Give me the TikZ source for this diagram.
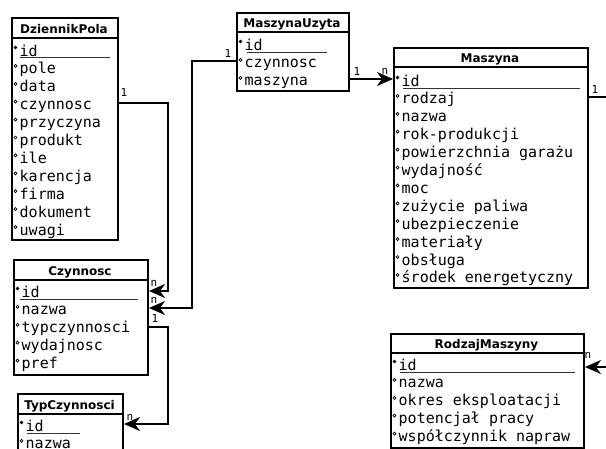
\documentclass[tikz,border=0pt]{standalone}
\usepackage{fontspec}
\newfontfamily\monof{DejaVu Sans Mono}
\newfontfamily\sansf{DejaVu Sans}
\usetikzlibrary{arrows.meta}
\tikzset{
 ebox/.style={draw, line width=2pt, inner sep=0pt, anchor=north west},
 ttl/.style={anchor=base, inner sep=0pt, font=\sansf\bfseries\fontsize{12}{14}\selectfont},
 rowtxt/.style={anchor=base west, inner sep=0pt, font=\monof\fontsize{15}{18}\selectfont},
 ulin/.style={line width=1pt, black!80},
 conn/.style={line width=2pt},
 arr/.style={conn, -{Stealth[length=16pt,width=14pt,inset=5pt]}},
 lbl/.style={inner sep=0pt, font=\monof\fontsize{11}{12}\selectfont},
}
% #1 name, #2 L, #3 R, #4 T, #5 H (title bottom), #6 B, #7 title, #8 title baseline
\newcommand\mkent[8]{%
 \node[ebox, minimum width={#3pt-#2pt}, minimum height={#6pt-#4pt}] (#1) at (#2,#4) {};
 \draw[line width=2pt] (#2,#5) -- (#3,#5);
 \node[ttl] (#1-t) at ({(#2+#3)/2},#8) {#7};
}
% #1 name, #2 L, #3 first baseline, #4 list
\newcommand\mkrows[4]{%
 \foreach \txt [count=\i from 0] in {#4} {
  \node[rowtxt] (#1-\i) at ({#2+8.5},{#3+17.9*\i}) {\txt};
  \ifnum\i=0
   \fill ({#2+4.5},{#3-8.5}) circle (1.8pt);
  \else
   \draw[line width=0.7pt] ({#2+4.5},{#3+17.9*\i-8}) circle (1.5pt);
  \fi
 }}
\begin{document}
\begin{tikzpicture}[x=1pt,y=-1pt]
\fill[white] (0,0) rectangle (606,448);
\useasboundingbox (0,0) rectangle (606,448);
\clip (0,0) rectangle (606,448);

% DziennikPola
\mkent{dp}{11}{117}{17}{38}{239}{DziennikPola}{33}
\mkrows{dp}{11}{56}{id,pole,data,czynnosc,przyczyna,produkt,ile,karencja,firma,dokument,uwagi}
\draw[ulin] (20,57.5) -- (110,57.5);

% MaszynaUzyta
\mkent{mu}{236}{348}{12}{32}{90}{MaszynaUzyta}{27}
\mkrows{mu}{236}{50}{id,czynnosc,maszyna}
\draw[ulin] (247,52) -- (327,52);

% Maszyna
\mkent{ma}{393}{587}{47}{67}{287}{Maszyna}{62}
\mkrows{ma}{393}{86}{id,rodzaj,nazwa,rok-produkcji,powierzchnia garażu,wydajność,moc,zużycie paliwa,ubezpieczenie,materiały,obsługa,środek energetyczny}
\draw[ulin] (403,88) -- (580,88);

% Czynnosc
\mkent{cz}{13}{147}{259}{280}{374}{Czynnosc}{275}
\mkrows{cz}{13}{297}{id,nazwa,typczynnosci,wydajnosc,pref}
\draw[ulin] (20,299) -- (138,299);

% TypCzynnosci
\mkent{tc}{17}{122}{393}{414}{475}{TypCzynnosci}{409}
\mkrows{tc}{17}{431}{id,nazwa}
\draw[ulin] (27,433) -- (80,433);

% RodzajMaszyny
\mkent{rm}{390}{583}{333}{353}{447}{RodzajMaszyny}{348}
\mkrows{rm}{390}{370}{id,nazwa,okres eksploatacji,potencjał pracy,współczynnik napraw}
\draw[ulin] (400,372) -- (575,372);

% free ends off the right edge
\coordinate (off1) at (620,97);
\coordinate (off2) at (620,367);

% connectors
\draw[arr] (dp.east |- 0,103) -- (168,103) -- (168,291) -- (cz.east |- 0,291);
\draw[arr] (mu.west |- 0,61) -- (192,61) -- (192,308) -- (cz.east |- 0,308);
\draw[arr] (mu.east |- 0,79) -- (ma.west |- 0,79);
\draw[conn] (ma.east |- 0,97) -- (off1);
\draw[arr] (off2) -- (rm.east |- 0,367);
\draw[arr] (cz.east |- 0,327) -- (168,327) -- (168,424) -- (tc.east |- 0,424);

% labels
\node[lbl] (l1) at (124,92) {1};
\node[lbl] (l2) at (154,283) {n};
\node[lbl] (l3) at (154,300) {n};
\node[lbl] (l4) at (228,53) {1};
\node[lbl] (l5) at (357,71) {1};
\node[lbl] (l6) at (385,71) {n};
\node[lbl] (l7) at (595,89) {1};
\node[lbl] (l8) at (588,355) {n};
\node[lbl] (l9) at (155,318) {1};
\node[lbl] (l10) at (130,417) {n};
\end{tikzpicture}
\end{document}
